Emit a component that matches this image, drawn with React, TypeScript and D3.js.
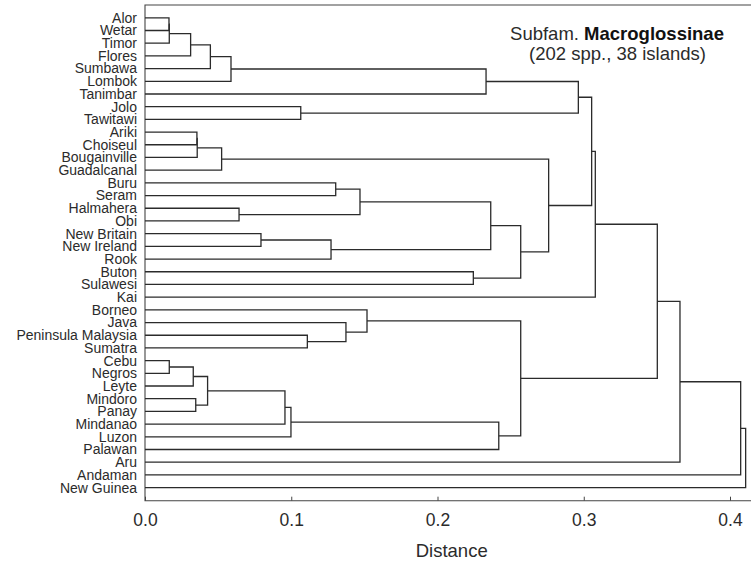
import * as d3 from 'd3';
import { useEffect, useRef } from 'react';

// islands, top to bottom as they appear in the tree
const leaves = [
  'Alor', 'Wetar', 'Timor', 'Flores', 'Sumbawa', 'Lombok', 'Tanimbar', 'Jolo', 'Tawitawi',
  'Ariki', 'Choiseul', 'Bougainville', 'Guadalcanal', 'Buru', 'Seram', 'Halmahera', 'Obi',
  'New Britain', 'New Ireland', 'Rook', 'Buton', 'Sulawesi', 'Kai', 'Borneo', 'Java',
  'Peninsula Malaysia', 'Sumatra', 'Cebu', 'Negros', 'Leyte', 'Mindoro', 'Panay', 'Mindanao',
  'Luzon', 'Palawan', 'Aru', 'Andaman', 'New Guinea',
];

// linkage: [a, b, distance]; ids < 38 are leaves, id 38 + k is merge k
const merges: [number, number, number][] = [
  [0, 1, 0.0164], [38, 2, 0.0166], [39, 3, 0.0312], [40, 4, 0.0447], [41, 5, 0.0588],
  [42, 6, 0.2332], [7, 8, 0.1065], [43, 44, 0.2963],
  [9, 10, 0.0355], [46, 11, 0.0357], [47, 12, 0.0524],
  [13, 14, 0.1304], [15, 16, 0.0643], [49, 50, 0.1470],
  [17, 18, 0.0793], [52, 19, 0.1272], [51, 53, 0.2364],
  [20, 21, 0.2245], [54, 55, 0.2569], [48, 56, 0.2760],
  [45, 57, 0.3054], [58, 22, 0.3079],
  [25, 26, 0.1110], [24, 60, 0.1374], [23, 61, 0.1518],
  [27, 28, 0.0166], [63, 29, 0.0330], [30, 31, 0.0347], [64, 65, 0.0428],
  [66, 32, 0.0957], [67, 33, 0.0998], [68, 34, 0.2419],
  [62, 69, 0.2569], [59, 70, 0.3503], [71, 35, 0.3658], [72, 36, 0.4073], [73, 37, 0.4107],
];

const xTicks = [0, 0.1, 0.2, 0.3, 0.4];
const titleLines = ['Subfam. ', 'Macroglossinae', '(202 spp., 38 islands)'];

function App() {
  const ref = useRef<SVGSVGElement | null>(null);

  useEffect(() => {
    const width = 751, height = 565;
    const left = 145, top = 5, axisY = 500.7;
    const svg = d3.select(ref.current);
    svg.selectAll('*').remove();

    const x = d3.scaleLinear().domain([0, 0.4]).range([left, 730]);
    const y = d3.scalePoint<string>().domain(leaves).range([17.8, 487.6]);

    const font = "'Liberation Sans', Arial, Helvetica, sans-serif";
    const ink = '#2b2b2b';

    // frame
    svg.append('path')
      .attr('d', `M${width},${top}H${left}V${axisY}H${width}`)
      .attr('fill', 'none').attr('stroke', '#444').attr('stroke-width', 1.1);

    // node positions
    const pos: { x: number; y: number }[] = leaves.map(l => ({ x: x(0), y: y(l)! }));
    const links: string[] = [];
    merges.forEach(([a, b, h]) => {
      const pa = pos[a], pb = pos[b];
      const mx = x(h);
      links.push(`M${pa.x},${pa.y}H${mx}V${pb.y}H${pb.x}`);
      pos.push({ x: mx, y: (pa.y + pb.y) / 2 });
    });

    svg.append('g')
      .selectAll('path')
      .data(links)
      .join('path')
      .attr('d', d => d)
      .attr('fill', 'none')
      .attr('stroke', ink)
      .attr('stroke-width', 1.3);

    // leaf labels
    svg.append('g')
      .selectAll('text')
      .data(leaves)
      .join('text')
      .attr('x', 137)
      .attr('y', d => y(d)!)
      .attr('dy', '0.35em')
      .attr('text-anchor', 'end')
      .attr('font-family', font)
      .attr('font-size', 14)
      .attr('fill', ink)
      .text(d => d);

    // x axis ticks, inward
    const axis = svg.append('g')
      .attr('transform', `translate(0,${axisY})`)
      .call(d3.axisBottom(x).tickValues(xTicks).tickSize(-4).tickPadding(13).tickFormat(d3.format('.1f')));
    axis.select('.domain').remove();
    axis.selectAll('.tick line').attr('stroke', '#444');
    axis.selectAll('.tick text')
      .attr('font-family', font)
      .attr('font-size', 17.5)
      .attr('fill', ink);

    svg.append('text')
      .attr('x', 451.7)
      .attr('y', 556.7)
      .attr('text-anchor', 'middle')
      .attr('font-family', font)
      .attr('font-size', 18.5)
      .attr('fill', ink)
      .text('Distance');

    // title
    const t = svg.append('text')
      .attr('x', 617)
      .attr('y', 39.5)
      .attr('text-anchor', 'middle')
      .attr('font-family', font)
      .attr('font-size', 18.5)
      .attr('fill', ink);
    t.append('tspan').text(titleLines[0]);
    t.append('tspan').attr('font-weight', 'bold').attr('fill', '#111').text(titleLines[1]);
    svg.append('text')
      .attr('x', 617.5)
      .attr('y', 59.8)
      .attr('text-anchor', 'middle')
      .attr('font-family', font)
      .attr('font-size', 18.5)
      .attr('fill', ink)
      .text(titleLines[2]);
  }, []);

  return (
    <svg
      ref={ref}
      width={751}
      height={565}
      style={{ position: 'absolute', left: 0, top: 0, background: '#fff' }}
    />
  );
}

export default App;
